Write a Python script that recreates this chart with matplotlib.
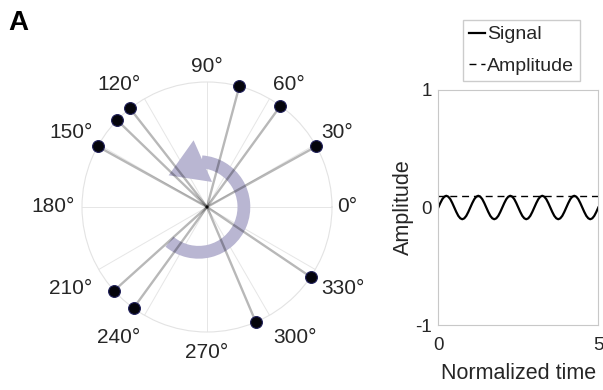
import numpy as np
import matplotlib
matplotlib.use("Agg")
import matplotlib.pyplot as plt
from matplotlib.patches import Arc, Polygon
from matplotlib.transforms import offset_copy

plt.rcParams["font.family"] = ["Liberation Sans", "DejaVu Sans"]
plt.rcParams["axes.unicode_minus"] = False

# phase angles of the points (degrees), all on the unit circle
phase_deg = [29, 54, 75, 128, 136, 151, 222, 234, 293, 326]
radius = [1.0] * len(phase_deg)
theta_ticks = [0, 30, 60, 90, 120, 150, 180, 210, 240, 270, 300, 330]
theta_labels = [f"{t}°" for t in theta_ticks]

# right panel: signal sampled over normalized time, plus amplitude level
signal = [
    0.0, 0.038, 0.071, 0.092, 0.1, 0.092, 0.071, 0.038, 0.0, -0.038, -0.071, -0.092, -0.1, -0.092, -0.071, -0.038,
    0.0, 0.038, 0.071, 0.092, 0.1, 0.092, 0.071, 0.038, 0.0, -0.038, -0.071, -0.092, -0.1, -0.092, -0.071, -0.038,
    0.0, 0.038, 0.071, 0.092, 0.1, 0.092, 0.071, 0.038, 0.0, -0.038, -0.071, -0.092, -0.1, -0.092, -0.071, -0.038,
    0.0, 0.038, 0.071, 0.092, 0.1, 0.092, 0.071, 0.038, 0.0, -0.038, -0.071, -0.092, -0.1, -0.092, -0.071, -0.038,
    0.0, 0.038, 0.071, 0.092, 0.1, 0.092, 0.071, 0.038, 0.0, -0.038, -0.071, -0.092, -0.1, -0.092, -0.071, -0.038,
    0.0,
]
amplitude = 0.1
time_range = [0, 5]
time = np.linspace(time_range[0], time_range[1], len(signal))

text_col = "#262626"
W, H = 603, 390
fig = plt.figure(figsize=(W / 100, H / 100), dpi=100)

# ---- polar panel
ax = fig.add_axes([82 / W, 1 - 332 / H, 250 / W, 250 / H], projection="polar")
ax.set_facecolor("none")
ax.set_ylim(0, 1)
ax.set_rticks([])
ax.set_thetagrids(theta_ticks, labels=[""] * len(theta_ticks))
ax.grid(True, color="#e6e6e6", lw=0.7)
ax.spines["polar"].set_color("#e3e3e3")
ax.spines["polar"].set_linewidth(0.8)

th = np.deg2rad(phase_deg)
for t, r in zip(th, radius):
    ax.plot([t, t], [0, r], color="k", alpha=0.28, lw=1.7, zorder=3)
ax.plot(th, radius, "o", ms=8.5, mfc="#05050c", mec="#20205a", mew=0.8,
        clip_on=False, zorder=5)

# theta labels, placed just outside the circle
for t, lab in zip(theta_ticks, theta_labels):
    c, s = np.cos(np.deg2rad(t)), np.sin(np.deg2rad(t))
    ha = "left" if c > 0.1 else ("right" if c < -0.1 else "center")
    if s > 0.1:
        va, rr, dy = "bottom", 1.06, -1.5
    elif s < -0.1:
        va, rr, dy = "top", 1.06, (-4 if abs(c) < 0.1 else -6)
    else:
        va, rr, dy = "center", (1.04 if c > 0 else 1.06), 0
    tr = offset_copy(ax.transData, fig=fig, x=0, y=dy, units="dots")
    ax.text(np.deg2rad(t), rr, lab, ha=ha, va=va, fontsize=15,
            color=text_col, transform=tr)

# rotation arrow (decoration, axes-fraction coordinates)
arc_c = (0.5 - 8.4 / 250, 0.5)
arc_r = 45.3 / 250
arc_col = (185 / 255, 182 / 255, 210 / 255)
ax.add_patch(Arc(arc_c, 2 * arc_r, 2 * arc_r, theta1=230, theta2=86,
                 transform=ax.transAxes, color=arc_col, lw=9.2,
                 capstyle="butt", zorder=2))
head = [(94.3, 66.9), (133.4, 43.6), (61.8, 28.4)]
verts = [(arc_c[0] + r / 250 * np.cos(np.deg2rad(a)),
          arc_c[1] + r / 250 * np.sin(np.deg2rad(a))) for a, r in head]
ax.add_patch(Polygon(verts, closed=True, transform=ax.transAxes,
                     facecolor=arc_col, edgecolor="none", zorder=2))

# ---- signal panel
ax3 = fig.add_axes([438.3 / W, 1 - 325 / H, 160 / W, 235 / H])
ax3.plot(time, signal, color="k", lw=1.6, label="Signal")
ax3.plot(time_range, [amplitude, amplitude], color="k", lw=1.0,
         dashes=(5, 3.5), label="Amplitude")
ax3.set_xlim(time_range)
ax3.set_ylim(-1, 1)
ax3.set_xticks(time_range)
ax3.set_yticks([-1, 0, 1])
ax3.tick_params(axis="x", length=0, pad=9, labelsize=13.5, colors=text_col)
ax3.tick_params(axis="y", length=0, pad=4.5, labelsize=13.5, colors=text_col)
for sp in ax3.spines.values():
    sp.set_color("#c8c8c8")
    sp.set_linewidth(0.8)
ax3.set_ylabel("Amplitude", fontsize=15.5, color=text_col)
ax3.yaxis.set_label_coords(-0.152, 0.5)
ax3.set_xlabel("Normalized time", fontsize=15.5, color=text_col, va="top")
ax3.xaxis.set_label_coords(0.5, -0.163)

leg = ax3.legend(loc="upper left", bbox_to_anchor=(463.3 / W, 1 - 20 / H),
                 bbox_transform=fig.transFigure, borderaxespad=0,
                 borderpad=0.3, handlelength=0.8, handletextpad=0.12,
                 labelspacing=0.7, fontsize=14, fancybox=False,
                 edgecolor="#cccccc", framealpha=1)
for txt in leg.get_texts():
    txt.set_color(text_col)

fig.text(8 / W, 1 - 30 / H, "A", fontsize=20, fontweight="bold",
         ha="left", va="baseline")

fig.savefig("out.png", dpi=100)
